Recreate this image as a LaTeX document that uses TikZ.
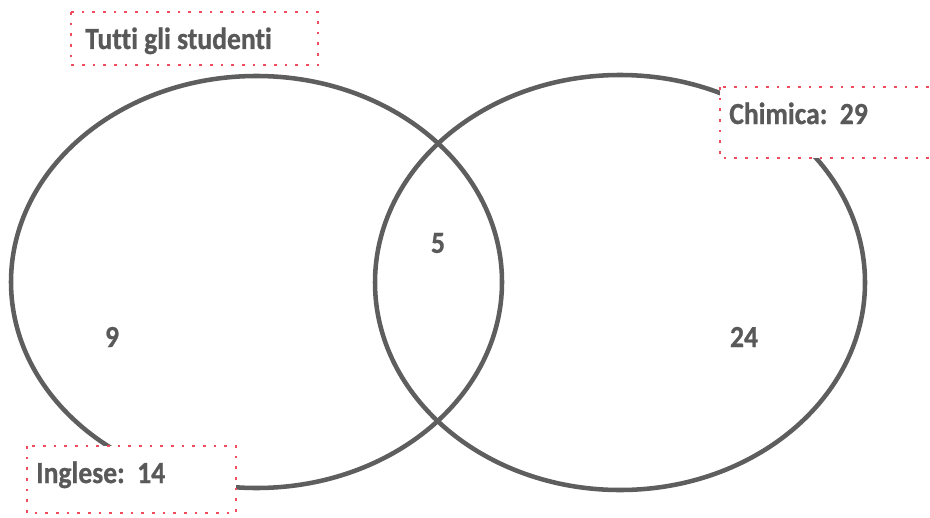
\documentclass[tikz,border=0pt]{standalone}
\usepackage{fontspec}
\setmainfont{Carlito}[Ligatures=NoCommon,FakeStretch=0.9,BoldFeatures={FakeBold=0.8}]
\definecolor{txtgray}{HTML}{595959}
\definecolor{linegray}{HTML}{5E5E5E}
\definecolor{dotpink}{RGB}{240,76,96}
\begin{document}
\begin{tikzpicture}[x=0.75pt,y=-0.75pt,
  venn/.style={draw=linegray,line width=3.4pt},
  labelbox/.style={draw=dotpink,fill=white,line width=2pt,dash pattern=on 2pt off 6pt},
  lbl/.style={inner sep=0pt,anchor=base west,text=txtgray,font=\fontsize{23}{28}\selectfont\bfseries},
  num/.style={inner sep=0pt,anchor=center,text=txtgray,font=\fontsize{23}{28}\selectfont\bfseries}]
\useasboundingbox (0,0) rectangle (930,517);
\begin{scope}
\clip (0,0) rectangle (930,517);
% circles
\draw[venn] (256.5,282) ellipse [x radius=245.5, y radius=206];
\draw[venn] (620,282.5) ellipse [x radius=245, y radius=207.5];
% label boxes
\draw[labelbox] (71,12) rectangle (318,65);
\draw[labelbox] (720,87) rectangle (940,158);
\draw[labelbox] (27,446) rectangle (236,513);
\end{scope}
\node[lbl] (tutti) at (85,49) {Tutti gli studenti};
\node[lbl] (chim) at (729,124) {Chimica:\ \ 29};
\node[lbl] (ingl) at (36,483) {Inglese:\ \ 14};
\node[num] (nine) at (112,337) {9};
\node[num] (five) at (438,243) {5};
\node[num] (tf) at (744,337) {24};
\end{tikzpicture}
\end{document}
